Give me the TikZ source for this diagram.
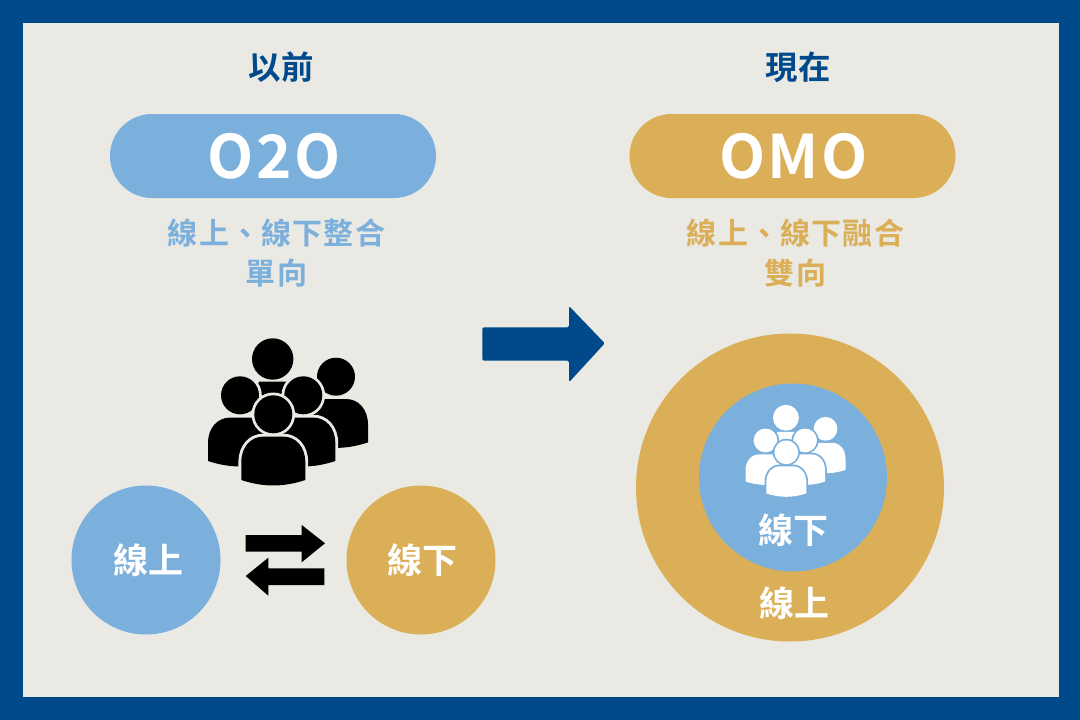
\documentclass[tikz,border=0pt]{standalone}
\usepackage{fontspec}
\setmainfont{Noto Sans CJK TC}[BoldFont={* Bold}]
\newfontfamily\wideface{Noto Sans CJK TC}[BoldFont={* Bold},LetterSpace=4]
\usetikzlibrary{calc}
\definecolor{navyblue}{HTML}{004A8B}
\definecolor{skyblue}{HTML}{7BB0DC}
\definecolor{goldtone}{HTML}{DBAF57}
\definecolor{paper}{HTML}{EAE9E4}
\tikzset{
	pill/.style={fill=#1, rounded corners=42pt, minimum width=326pt, minimum height=84pt, inner sep=0pt, text=white, font=\wideface\fontsize{60}{60}\selectfont\bfseries},
	heading/.style={text=navyblue, font=\fontsize{32.5}{32.5}\selectfont\bfseries},
	subline/.style={text=#1, font=\wideface\fontsize{30}{30}\selectfont\bfseries},
	blob/.style={circle, fill=#1, inner sep=0pt},
	blobtext/.style={text=white, font=\fontsize{35}{35}\selectfont\bfseries}
}
\def\bodyshape{(-32,65.7) -- (-32,48) .. controls (-32,32) and (-22,22.3) .. (-10,22.3) -- (10,22.3) .. controls (22,22.3) and (32,32) .. (32,48) -- (32,65.7) .. controls (10,73) and (-10,73) .. (-32,65.7) -- cycle}
% one person: x, y of the head, line scale, fill, ring
\def\person[#1](#2,#3)(#4)(#5){
	\begin{scope}[shift={(#2,#3)}]
		\draw[line width=#4*5.8pt, draw=#5, fill=#5] \bodyshape;
		\fill[#1] \bodyshape;
		\fill[#5] (0,0) circle (21.8);
		\fill[#1] (0,0) circle (19);
	\end{scope}
}
\def\crowd[#1](#2,#3)(#4)(#5){
	\begin{scope}[shift={(#2,#3)}, scale=#4]
		\person[#1](48,-16.3)(#4)(#5);
		\fill[#1] (-29,-11.3) -- (-1.3,-11.3) -- (5,5) -- (-35,5) -- cycle;
		\fill[#1] (-15.3,-34) circle (20.7);
		\person[#1](-48,2.3)(#4)(#5);
		\person[#1](15.3,2.3)(#4)(#5);
		\person[#1](-14.7,21.3)(#4)(#5);
	\end{scope}
}
\begin{document}
\begin{tikzpicture}[x=1pt, y=-1pt]
	\useasboundingbox (0,0) rectangle (1080,720);
	%%%%% FRAME %%%%%
	\fill[navyblue] (0,0) rectangle (1080,720);
	\fill[paper] (22.5,22.5) rectangle (1059,697);

	%%%%% LEFT %%%%%
	\node[heading] (before) at (281,67) {以前};
	\node[pill=skyblue] (otwoo) at (273,156) {\hspace{2pt}O2O};
	\node[subline=skyblue] (otwootext) at (276.5,233) {線上、線下整合};
	\node[subline=skyblue] (oneway) at (276.5,273) {單向};

	\crowd[black](288,393)(1)(paper);

	\node[blob=skyblue, minimum size=149pt] (onlineleft) at (146,560) {};
	\node[blob=goldtone, minimum size=149pt] (offlineleft) at (421,560) {};
	\node[blobtext] (onlinelefttext) at (148,560) {線上};
	\node[blobtext] (offlinelefttext) at (422,560) {線下};

	\fill[black] (245.7,535) -- (301.7,535) -- (301.7,525) -- (325,543.3) -- (301.7,562.3) -- (301.7,551.7) -- (245.7,551.7) -- cycle;
	\fill[black] (324.3,568.3) -- (268.3,568.3) -- (268.3,557.7) -- (245.7,576) -- (268.3,595.7) -- (268.3,585) -- (324.3,585) -- cycle;

	%%%%% MIDDLE %%%%%
	\fill[navyblue, rounded corners=1.5pt] (482.3,327.3) -- (569,327.3) -- (569,306) -- (604.8,343.3) -- (569,382.3) -- (569,360.7) -- (482.3,360.7) -- cycle;

	%%%%% RIGHT %%%%%
	\node[heading] (now) at (798,67) {現在};
	\node[pill=goldtone] (omo) at (792.5,156) {\hspace{2pt}OMO};
	\node[subline=goldtone] (omotext) at (795.5,233) {線上、線下融合};
	\node[subline=goldtone] (twoway) at (795.5,273) {雙向};

	\node[blob=goldtone, minimum size=308pt] (onlineright) at (790,487.5) {};
	\node[blob=skyblue, minimum size=188pt] (offlineright) at (793,477.5) {};
	\crowd[white](795.5,439)(0.625)(skyblue);
	\node[blobtext] (offlinerighttext) at (793,530) {線下};
	\node[blobtext] (onlinerighttext) at (794.5,603) {線上};
\end{tikzpicture}
\end{document}
